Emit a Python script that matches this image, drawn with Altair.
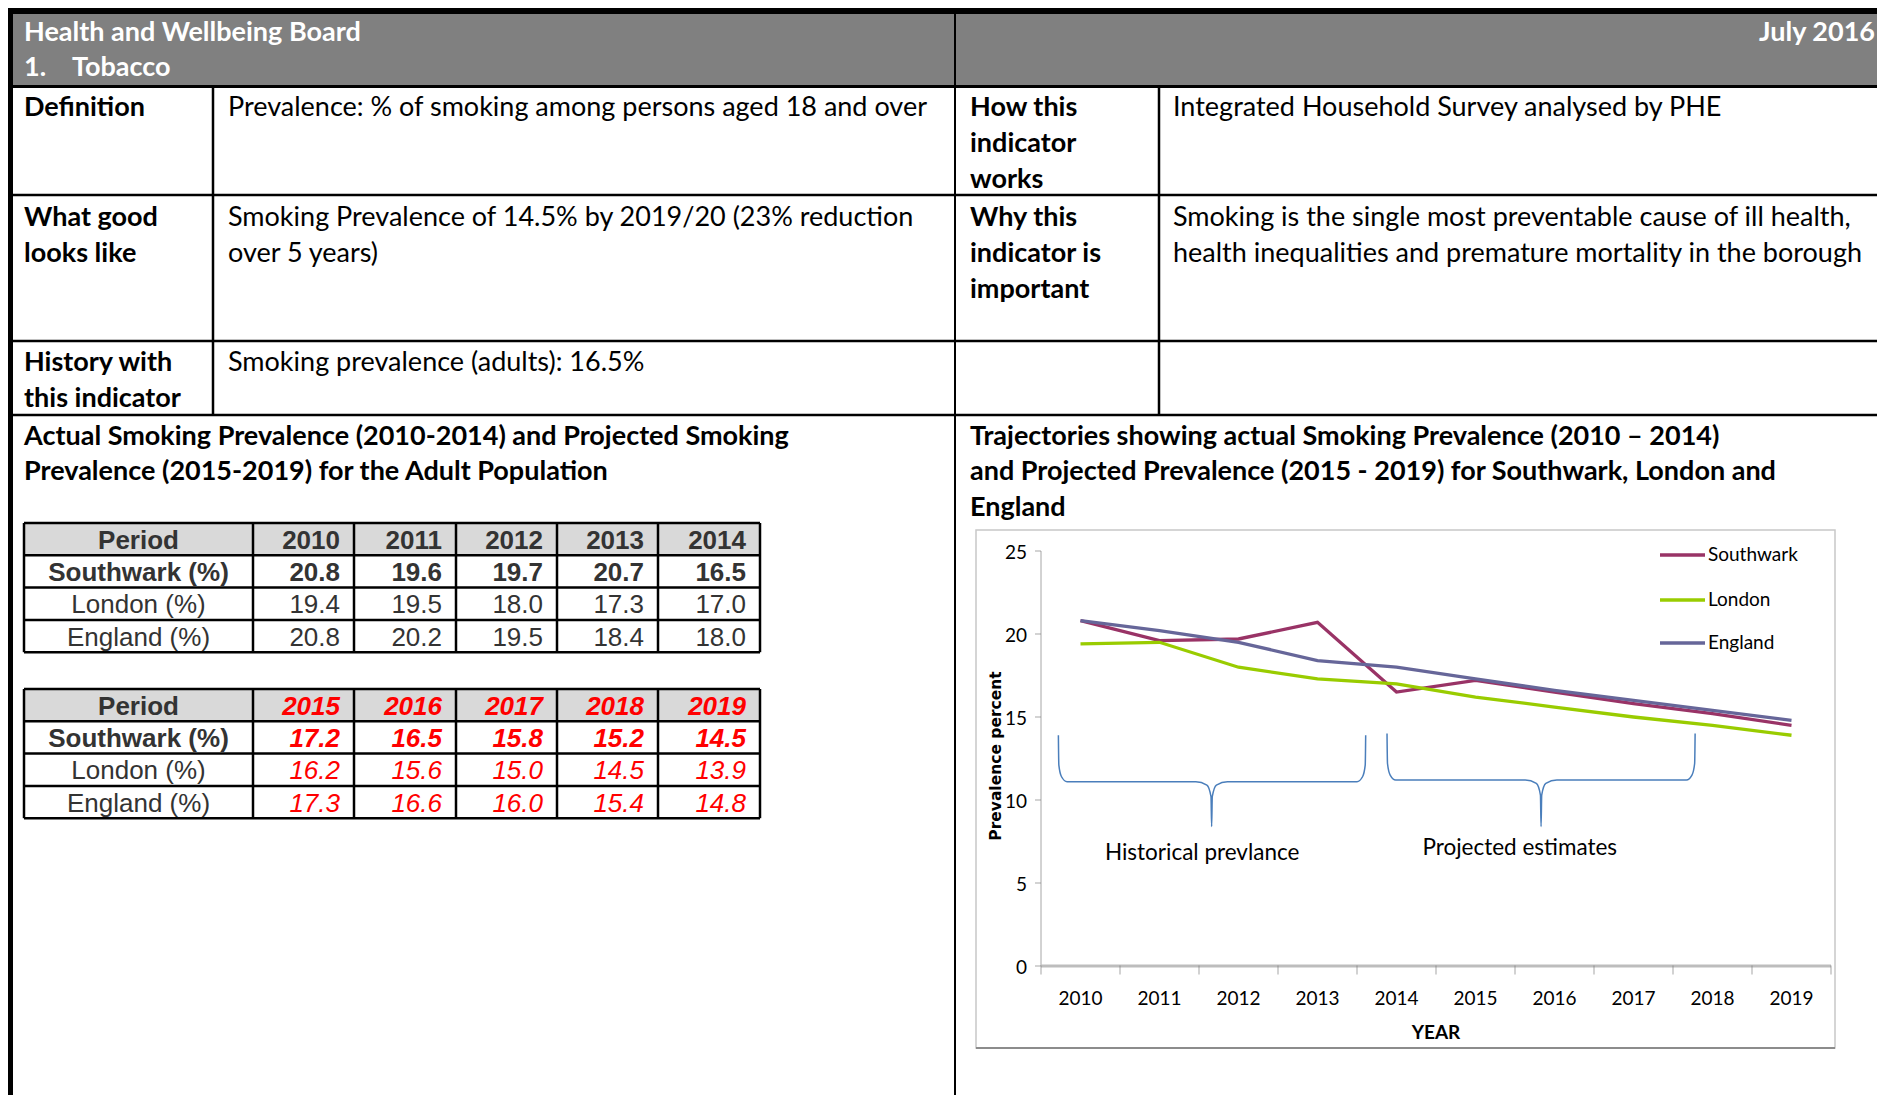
import altair as alt
import pandas as pd

# ---------------- data ----------------
years = [2010, 2011, 2012, 2013, 2014, 2015, 2016, 2017, 2018, 2019]
southwark = [20.8, 19.6, 19.7, 20.7, 16.5, 17.2, 16.5, 15.8, 15.2, 14.5]
london = [19.4, 19.5, 18.0, 17.3, 17.0, 16.2, 15.6, 15.0, 14.5, 13.9]
england = [20.8, 20.2, 19.5, 18.4, 18.0, 17.3, 16.6, 16.0, 15.4, 14.8]
series_names = ["Southwark", "London", "England"]
series_colors = ["#993366", "#99CC00", "#666699"]
table_labels = ["Southwark (%)", "London (%)", "England (%)"]
y_tick_values = [0, 5, 10, 15, 20, 25]
annotation_texts = ["Historical prevlance", "Projected estimates"]

header_title = ["Health and Wellbeing Board", "1.", "Tobacco"]
header_date = "July 2016"
left_labels = [["Definition"], ["What good", "looks like"], ["History with", "this indicator"]]
left_values = [["Prevalence: % of smoking among persons aged 18 and over"],
               ["Smoking Prevalence of 14.5% by 2019/20 (23% reduction", "over 5 years)"],
               ["Smoking prevalence (adults): 16.5%"]]
right_labels = [["How this", "indicator", "works"], ["Why this", "indicator is", "important"], []]
right_values = [["Integrated Household Survey analysed by PHE"],
                ["Smoking is the single most preventable cause of ill health,",
                 "health inequalities and premature mortality in the borough"], []]
left_section_title = ["Actual Smoking Prevalence (2010-2014) and Projected Smoking",
                      "Prevalence (2015-2019) for the Adult Population"]
right_section_title = ["Trajectories showing actual Smoking Prevalence (2010 \u2013 2014)",
                       "and Projected Prevalence (2015 - 2019) for Southwark, London and",
                       "England"]

# ---------------- page layout (pixels) ----------------
W, H = 1869, 1087
M = 8
DOC_X = alt.Scale(domain=[M, M + W], range=[0, W], nice=False, zero=False)
DOC_Y = alt.Scale(domain=[M, M + H], range=[0, H], nice=False, zero=False)

AX_X0, AX_X1 = 1041, 1831
AX_Y0, AX_Y25 = 966, 551
CX = alt.Scale(domain=[years[0] - 0.5, years[-1] + 0.5], range=[AX_X0 - M, AX_X1 - M], nice=False, zero=False)
CY = alt.Scale(domain=[0, 25], range=[AX_Y0 - M, AX_Y25 - M], nice=False, zero=False)

FONT = "Lato"
TFONT = "Liberation Sans"
BODY = 27
LINE = 36
row_tops = [107.5, 217.5, 362.5]
col_text_x = [24, 228, 970, 1173]

layers = []


def doc_enc(**extra):
    d = dict(x=alt.X("x:Q", scale=DOC_X, axis=None), y=alt.Y("y:Q", scale=DOC_Y, axis=None))
    d.update(extra)
    return d


def chart_enc(**extra):
    d = dict(x=alt.X("x:Q", scale=CX, axis=None), y=alt.Y("y:Q", scale=CY, axis=None))
    d.update(extra)
    return d


def doc_text(rows, **mark):
    df = pd.DataFrame(rows, columns=["x", "y", "t"])
    return alt.Chart(df).mark_text(**mark).encode(**doc_enc(text="t:N"))


# background rectangles
rects = pd.DataFrame([
    dict(x=13, x2=1890, y=14, y2=85, c="#808080"),
    dict(x=24, x2=760, y=523, y2=555, c="#D9D9D9"),
    dict(x=24, x2=760, y=689, y2=721, c="#D9D9D9"),
    dict(x=M, x2=1890, y=M, y2=14, c="#000000"),
    dict(x=M, x2=13, y=M, y2=1100, c="#000000"),
    dict(x=13, x2=1890, y=85, y2=88, c="#000000"),
])
layers.append(alt.Chart(rects).mark_rect().encode(
    **doc_enc(x2="x2:Q", y2="y2:Q", color=alt.Color("c:N", scale=None))))

# chart frame
frame = pd.DataFrame([dict(x=976, x2=1835, y=530, y2=1048)])
layers.append(alt.Chart(frame).mark_rect(fill="white", stroke="#C8C8C8", strokeWidth=1.5).encode(
    **doc_enc(x2="x2:Q", y2="y2:Q")))

# document rules
rules = [
    (13, 1890, 195, 195, 2.5), (13, 1890, 341, 341, 2.5), (13, 1890, 415, 415, 2.5),
    (213, 213, 88, 415, 2.5), (1159, 1159, 88, 415, 2.5), (955, 955, 14, 1100, 2.0),
    (976, 1835, 1048, 1048, 2.0),
]
col_edges = [24, 253, 354, 456, 557, 658, 760]
table_tops = [523, 689]
row_h = 32.3
for top in table_tops:
    edges = [top + i * row_h for i in range(5)]
    for e in edges:
        rules.append((col_edges[0], col_edges[-1], e, e, 2.5))
    for c in col_edges:
        rules.append((c, c, edges[0], edges[-1], 2.5))
rdf = pd.DataFrame(rules, columns=["x", "x2", "y", "y2", "w"])
rdf["c"] = ["#8C8C8C" if r[2] == 1048 else "#000000" for r in rules]
layers.append(alt.Chart(rdf).mark_rule().encode(
    **doc_enc(x2="x2:Q", y2="y2:Q", size=alt.Size("w:Q", scale=None), color=alt.Color("c:N", scale=None))))

# header texts
layers.append(doc_text([(24, 33, header_title[0]), (24, 68, header_title[1]), (72, 68, header_title[2])],
                       font=FONT, fontSize=BODY, fontWeight="bold", color="white", align="left", baseline="middle"))
layers.append(doc_text([(1875, 33, header_date)],
                       font=FONT, fontSize=BODY, fontWeight="bold", color="white", align="right", baseline="middle"))

bold_rows, reg_rows = [], []
for i, top in enumerate(row_tops):
    for j, s in enumerate(left_labels[i]):
        bold_rows.append((col_text_x[0], top + j * LINE, s))
    for j, s in enumerate(left_values[i]):
        reg_rows.append((col_text_x[1], top + j * LINE, s))
    for j, s in enumerate(right_labels[i]):
        bold_rows.append((col_text_x[2], top + j * LINE, s))
    for j, s in enumerate(right_values[i]):
        reg_rows.append((col_text_x[3], top + j * LINE, s))
for j, s in enumerate(left_section_title):
    bold_rows.append((24, 436.5 + j * 35.5, s))
for j, s in enumerate(right_section_title):
    bold_rows.append((970, 436.5 + j * 35.5, s))
layers.append(doc_text(bold_rows, font=FONT, fontSize=BODY, fontWeight="bold", color="black",
                       align="left", baseline="middle"))
layers.append(doc_text(reg_rows, font=FONT, fontSize=BODY, color="black", align="left", baseline="middle"))

# tables
styles = {
    "bc": dict(fontWeight="bold", color="#333333", align="center"),
    "rc": dict(color="#333333", align="center"),
    "br": dict(fontWeight="bold", color="#333333", align="right"),
    "rr": dict(color="#333333", align="right"),
    "bir": dict(fontWeight="bold", fontStyle="italic", color="#FF0000", align="right"),
    "ir": dict(fontStyle="italic", color="#FF0000", align="right"),
}
cells = {k: [] for k in styles}
series_vals = [southwark, london, england]
for ti, top in enumerate(table_tops):
    yrs = years[ti * 5:(ti + 1) * 5]
    cy0 = top + row_h / 2 + 1.5
    lab_x = (col_edges[0] + col_edges[1]) / 2
    cells["bc"].append((lab_x, cy0, "Period"))
    for k, yv in enumerate(yrs):
        cells["br" if ti == 0 else "bir"].append((col_edges[k + 2] - 14, cy0, str(yv)))
    for r, (lab, vals) in enumerate(zip(table_labels, series_vals)):
        yy = cy0 + (r + 1) * row_h
        cells["bc" if r == 0 else "rc"].append((lab_x, yy, lab))
        for k, v in enumerate(vals[ti * 5:(ti + 1) * 5]):
            if ti == 0:
                st = "br" if r == 0 else "rr"
            else:
                st = "bir" if r == 0 else "ir"
            cells[st].append((col_edges[k + 2] - 14, yy, f"{v:.1f}"))
for k, st in styles.items():
    layers.append(doc_text(cells[k], font=TFONT, fontSize=26, baseline="middle", **st))

# ---------------- line chart ----------------
# y axis line and ticks
layers.append(alt.Chart(pd.DataFrame([dict(x=years[0] - 0.5, y=0, y2=25)])).mark_rule(
    color="#A6A6A6", strokeWidth=1).encode(**chart_enc(y2="y2:Q")))
ytdf = pd.DataFrame({"x": [years[0] - 0.5] * len(y_tick_values), "y": y_tick_values,
                     "t": [str(v) for v in y_tick_values]})
layers.append(alt.Chart(ytdf).mark_tick(orient="horizontal", size=6, thickness=1, xOffset=-3,
                                        color="#808080").encode(**chart_enc()))
layers.append(alt.Chart(ytdf).mark_text(font=FONT, fontSize=19, align="right", baseline="middle",
                                        dx=-14, dy=1.5, color="black").encode(**chart_enc(text="t:N")))
# x axis
bounds = [yv - 0.5 for yv in years] + [years[-1] + 0.5]
layers.append(alt.Chart(pd.DataFrame([dict(x=bounds[0], x2=bounds[-1], y=0)])).mark_rule(
    color="#BDBDBD", strokeWidth=3).encode(**chart_enc(x2="x2:Q")))
layers.append(alt.Chart(pd.DataFrame({"x": bounds, "y": [0] * len(bounds)})).mark_tick(
    orient="vertical", size=9, thickness=1, yOffset=4, color="#808080").encode(**chart_enc()))
xldf = pd.DataFrame({"x": years, "y": [0] * len(years), "t": [str(v) for v in years]})
layers.append(alt.Chart(xldf).mark_text(font=FONT, fontSize=19, align="center", baseline="middle",
                                        dy=33, color="black").encode(**chart_enc(text="t:N")))
layers.append(alt.Chart(pd.DataFrame([dict(x=(bounds[0] + bounds[-1]) / 2, y=0, t="YEAR")])).mark_text(
    font=FONT, fontSize=19, fontWeight="bold", align="center", baseline="middle", dy=67,
    color="black").encode(**chart_enc(text="t:N")))
layers.append(doc_text([(996, 756, "Prevalence percent")], font="DejaVu Sans", fontSize=15.5,
                       fontWeight="bold", angle=270, align="center", baseline="middle", color="black"))

# braces (annotation shapes in data units)
braces = [(2009.72, 2013.61, 2011.66, 13.9, 11.1, 8.4), (2013.88, 2017.78, 2015.83, 14.0, 11.2, 8.4)]
brows = []
for b, (x0, x1, xm, ytop, yh, ytip) in enumerate(braces):
    pts = [(x0, ytop), (x0 + 0.006, yh + 1.0), (x0 + 0.04, yh + 0.3), (x0 + 0.11, yh),
           (xm - 0.2, yh), (xm - 0.06, yh - 0.2), (xm - 0.008, yh - 0.9), (xm, ytip),
           (xm + 0.008, yh - 0.9), (xm + 0.06, yh - 0.2), (xm + 0.2, yh),
           (x1 - 0.11, yh), (x1 - 0.04, yh + 0.3), (x1 - 0.006, yh + 1.0), (x1, ytop)]
    for k, (px, py) in enumerate(pts):
        brows.append(dict(b=b, k=k, x=px, y=py))
layers.append(alt.Chart(pd.DataFrame(brows)).mark_line(color="#4A7EBB", strokeWidth=1.5,
                                                        interpolate="monotone").encode(
    **chart_enc(detail="b:N", order="k:Q")))
anns = pd.DataFrame([dict(x=2011.54, y=6.87, t=annotation_texts[0]),
                     dict(x=2015.56, y=7.17, t=annotation_texts[1])])
layers.append(alt.Chart(anns).mark_text(font=FONT, fontSize=22.5, align="center", baseline="middle",
                                        dy=1.5, color="black").encode(**chart_enc(text="t:N")))

# series lines
for name, vals, col in zip(series_names, series_vals, series_colors):
    df = pd.DataFrame({"x": years, "y": vals})
    layers.append(alt.Chart(df).mark_line(color=col, strokeWidth=3.3).encode(**chart_enc()))

# legend
legend_y = [555, 600, 643]
lg = pd.DataFrame({"x": [1660] * 3, "x2": [1705] * 3, "y": legend_y, "c": series_colors, "t": series_names})
layers.append(alt.Chart(lg).mark_rule(strokeWidth=3.5).encode(
    **doc_enc(x2="x2:Q", color=alt.Color("c:N", scale=None))))
layers.append(alt.Chart(lg.assign(x=1708)).mark_text(font=FONT, fontSize=19, align="left",
                                                      baseline="middle", color="black").encode(
    **doc_enc(text="t:N")))

chart = alt.layer(*layers).resolve_scale(x="independent", y="independent").properties(
    width=W, height=H, padding=0, autosize="none", background="white"
).configure_view(stroke=None)

chart.save("out.html", embed_options={"renderer": "svg", "actions": False})
